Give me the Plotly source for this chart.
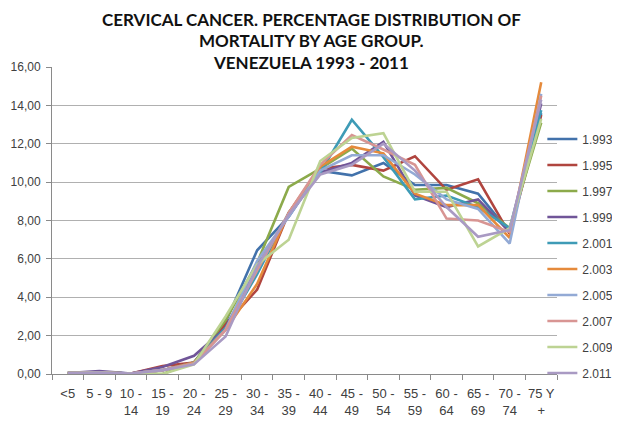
import plotly.graph_objects as go

age_groups = ["<5", "5 - 9", "10 -<br>14", "15 -<br>19", "20 -<br>24", "25 -<br>29", "30 -<br>34",
              "35 -<br>39", "40 -<br>44", "45 -<br>49", "50 -<br>54", "55 -<br>59", "60 -<br>64",
              "65 -<br>69", "70 -<br>74", "75 Y<br>+"]

y1993 = [0.05, 0.10, 0.02, 0.20, 0.60, 2.70, 6.45, 8.20, 10.60, 10.35, 11.00, 9.85, 9.85, 9.40, 7.40, 13.60]
y1995 = [0.05, 0.08, 0.02, 0.42, 0.60, 2.60, 4.40, 8.40, 10.70, 10.90, 10.60, 11.35, 9.60, 10.15, 7.30, 13.50]
y1997 = [0.05, 0.08, 0.02, 0.00, 0.60, 2.80, 5.80, 9.75, 10.70, 11.75, 10.30, 9.60, 9.70, 8.90, 7.60, 13.10]
y1999 = [0.05, 0.15, 0.02, 0.37, 0.95, 2.40, 5.60, 8.30, 10.50, 11.00, 12.10, 9.30, 8.70, 9.10, 7.40, 14.10]
y2001 = [0.05, 0.08, 0.02, 0.20, 0.60, 2.40, 5.20, 8.40, 10.50, 13.25, 11.30, 9.10, 9.30, 8.70, 7.60, 13.75]
y2003 = [0.05, 0.08, 0.02, 0.20, 0.60, 2.30, 4.70, 8.40, 10.80, 11.85, 11.50, 9.40, 8.80, 8.80, 7.10, 15.20]
y2005 = [0.05, 0.08, 0.02, 0.20, 0.55, 2.30, 5.90, 8.20, 10.60, 11.40, 11.40, 10.40, 9.10, 8.60, 6.80, 14.60]
y2007 = [0.05, 0.08, 0.02, 0.20, 0.55, 2.30, 5.40, 8.40, 10.90, 12.45, 11.70, 10.90, 8.10, 8.00, 7.40, 14.50]
y2009 = [0.05, 0.08, 0.02, 0.00, 0.50, 3.00, 5.70, 7.00, 11.10, 12.30, 12.55, 9.50, 9.50, 6.65, 7.60, 13.30]
y2011 = [0.05, 0.08, 0.02, 0.20, 0.50, 1.95, 5.60, 8.30, 10.40, 10.90, 12.00, 10.60, 8.70, 7.15, 7.50, 14.30]

series_names = ["1.993", "1.995", "1.997", "1.999", "2.001", "2.003", "2.005", "2.007", "2.009", "2.011"]
series_values = [y1993, y1995, y1997, y1999, y2001, y2003, y2005, y2007, y2009, y2011]
colors = ["#4272AB", "#B0453F", "#8CAA4B", "#705598", "#3E9BB6", "#E58A3B",
          "#93AAD5", "#D89593", "#BDD393", "#A99AC3"]

title_lines = ["CERVICAL CANCER. PERCENTAGE DISTRIBUTION OF",
               "MORTALITY BY AGE GROUP.",
               "VENEZUELA 1993 - 2011"]

# the page adds an 8px body margin, so the figure is 8px smaller than the window
W, H = 612, 415
PLOT_L, PLOT_R, PLOT_TOP, PLOT_BOT = 44, 549, 59, 366
PLOT_W, PLOT_H = PLOT_R - PLOT_L, PLOT_BOT - PLOT_TOP

fig = go.Figure()
for name, vals, col in zip(series_names, series_values, colors):
    fig.add_trace(go.Scatter(x=age_groups, y=vals, name=name, mode="lines",
                             line=dict(color=col, width=2.6), legendgroup=name))

title_tops = [0.0, 21.5, 43.0]
for line, top_px in zip(title_lines, title_tops):
    fig.add_annotation(text=line, x=(303 - PLOT_L) / PLOT_W, xref="paper", xanchor="center",
                       y=1 + (PLOT_TOP - top_px) / PLOT_H, yref="paper", yanchor="top",
                       showarrow=False, borderpad=0,
                       font=dict(family="Lato, sans-serif", size=17, color="#111111", weight="bold"))

fig.update_layout(
    width=W, height=H,
    paper_bgcolor="white", plot_bgcolor="white",
    margin=dict(l=PLOT_L, r=W - PLOT_R, t=PLOT_TOP, b=H - PLOT_BOT, autoexpand=False),
    separators=",.",
    font=dict(family="Liberation Sans, Arial, sans-serif", color="#404040", size=11),
    showlegend=True,
    legend=dict(x=0.971, xanchor="left", y=0.8125, yanchor="top", yref="paper",
                font=dict(size=12, color="#404040"), tracegroupgap=7,
                bgcolor="rgba(0,0,0,0)", itemwidth=30),
)
fig.update_xaxes(type="category", showgrid=False, showline=True, linecolor="#8a8a8a", linewidth=1,
                 ticks="outside", tickson="boundaries", ticklen=5, tickcolor="#8a8a8a",
                 tickangle=0, automargin=False, tickfont=dict(size=13, color="#404040"),
                 ticklabelstandoff=7, range=[-0.5, 15.5])
fig.update_yaxes(range=[0, 16], dtick=2, tickformat=".2f", showgrid=True, gridcolor="#b0b0b0",
                 gridwidth=1, showline=True, linecolor="#8a8a8a", linewidth=1,
                 ticks="outside", ticklen=5, tickcolor="#8a8a8a", zeroline=False, automargin=False,
                 ticklabelstandoff=3, tickfont=dict(size=12, color="#404040"))

fig.write_html("out.html")
